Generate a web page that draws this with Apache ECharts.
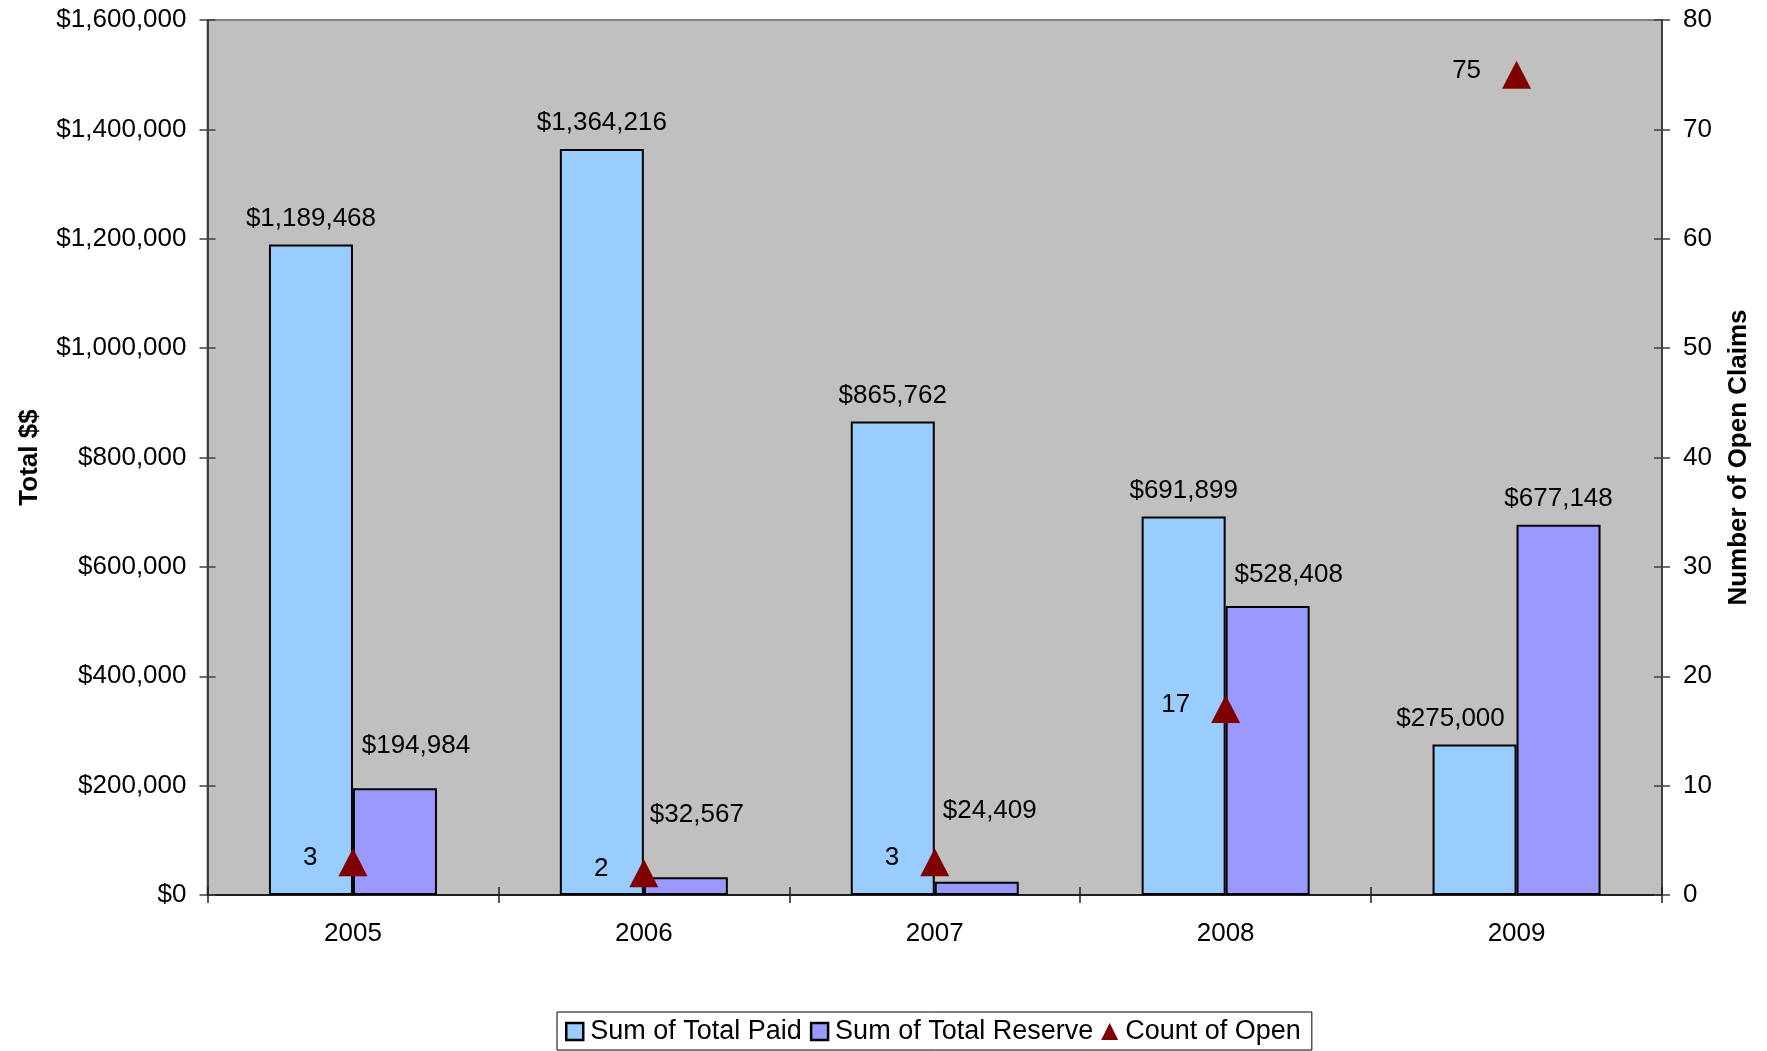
<!DOCTYPE html>
<html>
<head>
<meta charset="utf-8">
<script src="https://cdn.jsdelivr.net/npm/echarts@6/dist/echarts.min.js"></script>
<style>
html,body{margin:0;padding:0;background:#fff;}
#chart{width:1767px;height:1051px;}
</style>
</head>
<body>
<div id="chart"></div>
<script>
// ---- data ----
var categories = ['2005', '2006', '2007', '2008', '2009'];
var totalPaid = [1189468, 1364216, 865762, 691899, 275000];
var totalReserve = [194984, 32567, 24409, 528408, 677148];
var openCount = [3, 2, 3, 17, 75];
var leftTicks = { min: 0, max: 1600000, interval: 200000 };
var rightTicks = { min: 0, max: 80, interval: 10 };

// ---- label shifts (styling, matching the reference's manual label placement) ----
var paidLabelShift = [[0, 0], [0, 0], [0, 0], [0, 0], [-24, 0]];
var reserveLabelShift = [[21, -17], [11, -36], [13, -45], [21, -5], [0, 0]];

var FONT = 'Arial, "Liberation Sans", sans-serif';
function money(v) { return '$' + Number(v).toLocaleString('en-US'); }

function barData(values, shifts) {
  return values.map(function (v, i) {
    return { value: v, label: { offset: shifts[i] } };
  });
}

var chart = echarts.init(document.getElementById('chart'), null, { renderer: 'canvas' });

var option = {
  backgroundColor: '#ffffff',
  animation: false,
  textStyle: { fontFamily: FONT },
  grid: {
    left: 207.5, right: 105, top: 20, bottom: 156,
    show: true, backgroundColor: '#c0c0c0', borderColor: '#808080', borderWidth: 2
  },
  legend: {
    left: 557, top: 1012,
    orient: 'horizontal',
    padding: [6, 11, 5, 8],
    itemGap: 8,
    itemWidth: 17, itemHeight: 17,
    borderColor: '#000', borderWidth: 1,
    backgroundColor: '#fff',
    textStyle: { fontSize: 27, color: '#000', fontFamily: FONT, padding: [0, 0, 0, 2] },
    data: [
      { name: 'Sum of Total Paid', icon: 'rect', itemStyle: { color: '#99ccff', borderColor: '#000', borderWidth: 2.5 } },
      { name: 'Sum of Total Reserve', icon: 'rect', itemStyle: { color: '#9999ff', borderColor: '#000', borderWidth: 2.5 } },
      { name: 'Count of Open', icon: 'triangle', itemStyle: { color: '#800000', borderWidth: 0 } }
    ]
  },
  xAxis: [
    {
      type: 'category',
      data: categories,
      position: 'bottom',
      axisLine: { show: true, lineStyle: { color: '#202020', width: 2 } },
      axisTick: { show: true, length: 8, lineStyle: { color: '#202020', width: 1.5 } },
      axisLabel: { fontSize: 26, color: '#000', margin: 26, fontFamily: FONT },
      splitLine: { show: false }
    },
    {
      type: 'category',
      data: categories,
      position: 'bottom',
      axisLine: { show: false },
      axisTick: { show: true, inside: true, length: 8, lineStyle: { color: '#202020', width: 1.5 } },
      axisLabel: { show: false },
      splitLine: { show: false }
    }
  ],
  yAxis: [
    {
      type: 'value',
      min: leftTicks.min, max: leftTicks.max, interval: leftTicks.interval,
      position: 'left',
      name: 'Total $$',
      nameLocation: 'middle',
      nameRotate: 90,
      nameGap: 165,
      nameTextStyle: { fontSize: 26, fontWeight: 'bold', color: '#000', fontFamily: FONT },
      axisLine: { show: true, lineStyle: { color: '#404040', width: 2 } },
      axisTick: { show: true, length: 8, lineStyle: { color: '#404040', width: 1.5 } },
      axisLabel: { fontSize: 26, color: '#000', margin: 21, fontFamily: FONT, formatter: money },
      splitLine: { show: false }
    },
    {
      type: 'value',
      min: rightTicks.min, max: rightTicks.max, interval: rightTicks.interval,
      position: 'right',
      name: 'Number of Open Claims',
      nameLocation: 'middle',
      nameRotate: 90,
      nameGap: 64,
      nameTextStyle: { fontSize: 26, fontWeight: 'bold', color: '#000', fontFamily: FONT },
      axisLine: { show: true, lineStyle: { color: '#404040', width: 2 } },
      axisTick: { show: true, length: 8, lineStyle: { color: '#404040', width: 1.5 } },
      axisLabel: { fontSize: 26, color: '#000', margin: 21, fontFamily: FONT },
      splitLine: { show: false }
    },
    {
      type: 'value',
      min: leftTicks.min, max: leftTicks.max, interval: leftTicks.interval,
      position: 'left',
      axisLine: { show: false },
      axisTick: { show: true, inside: true, length: 8, lineStyle: { color: '#404040', width: 1.5 } },
      axisLabel: { show: false },
      splitLine: { show: false }
    },
    {
      type: 'value',
      min: rightTicks.min, max: rightTicks.max, interval: rightTicks.interval,
      position: 'right',
      axisLine: { show: false },
      axisTick: { show: true, inside: true, length: 8, lineStyle: { color: '#404040', width: 1.5 } },
      axisLabel: { show: false },
      splitLine: { show: false }
    }
  ],
  series: [
    {
      name: 'Sum of Total Paid',
      type: 'bar',
      xAxisIndex: 0, yAxisIndex: 0,
      data: barData(totalPaid, paidLabelShift),
      barWidth: 84,
      barGap: '0%',
      itemStyle: { color: '#99ccff', borderColor: '#000', borderWidth: 2 },
      label: {
        show: true, position: 'top', distance: 13,
        fontSize: 26, color: '#000', fontFamily: FONT,
        formatter: function (p) { return money(p.value); }
      },
      z: 2
    },
    {
      name: 'Sum of Total Reserve',
      type: 'bar',
      xAxisIndex: 0, yAxisIndex: 0,
      data: barData(totalReserve, reserveLabelShift),
      barWidth: 84,
      barGap: '0%',
      itemStyle: { color: '#9999ff', borderColor: '#000', borderWidth: 2 },
      label: {
        show: true, position: 'top', distance: 13,
        fontSize: 26, color: '#000', fontFamily: FONT,
        formatter: function (p) { return money(p.value); }
      },
      z: 2
    },
    {
      name: 'Count of Open',
      type: 'line',
      xAxisIndex: 0, yAxisIndex: 1,
      data: openCount,
      symbol: 'triangle',
      symbolSize: [29, 28],
      lineStyle: { width: 0, opacity: 0 },
      itemStyle: { color: '#800000', borderWidth: 0 },
      label: {
        show: true, position: 'left', distance: 21, offset: [0, -4],
        fontSize: 26, color: '#000', fontFamily: FONT
      },
      z: 5
    }
  ]
};

chart.setOption(option);
</script>
</body>
</html>
